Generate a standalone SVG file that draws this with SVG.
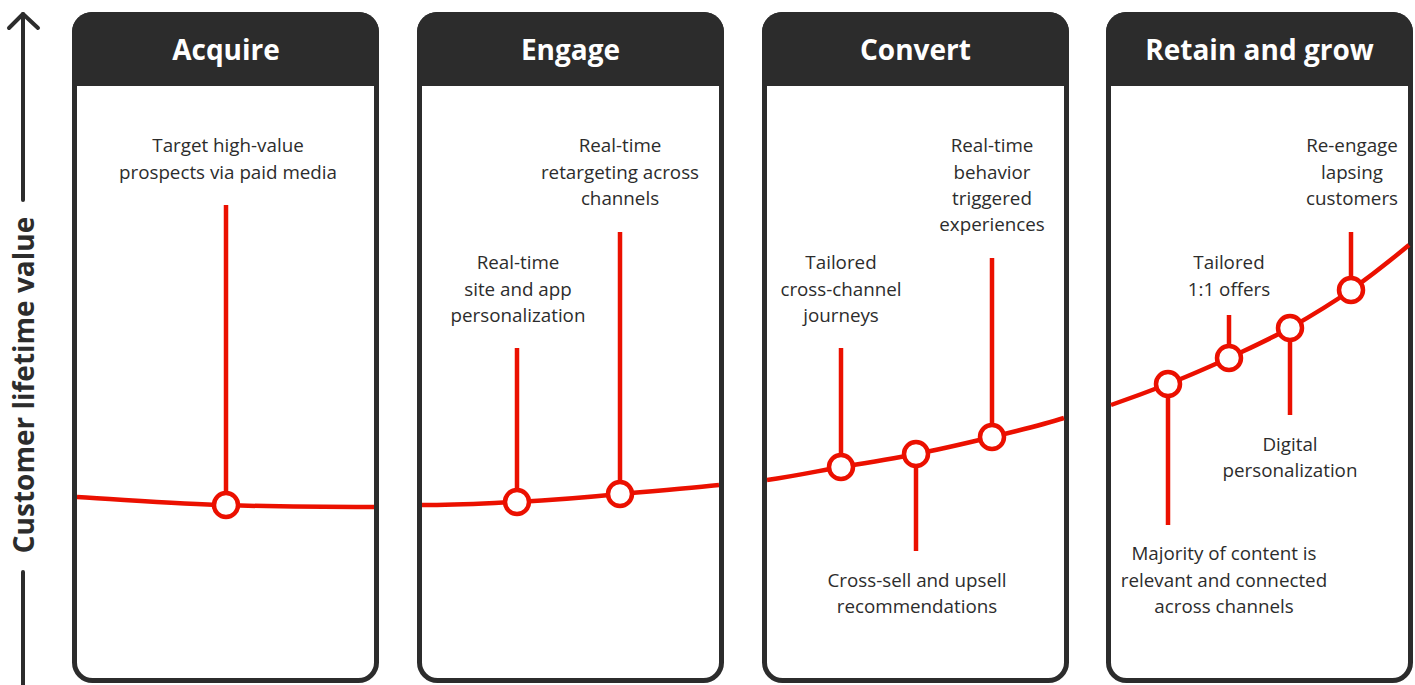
<svg xmlns="http://www.w3.org/2000/svg" width="1415" height="685" viewBox="0 0 1415 685">
  <style>
    .panel { fill: #ffffff; stroke: #2c2c2c; stroke-width: 5; }
    .head { fill: #2c2c2c; }
    .title { font-family: "Open Sans", "Noto Sans", sans-serif; font-weight: 700; font-size: 28px; fill: #ffffff; text-anchor: middle; }
    .label { font-family: "Open Sans", "Noto Sans", sans-serif; font-size: 18.8px; fill: #2c2c2c; text-anchor: middle; }
    .axis { stroke: #2c2c2c; stroke-width: 4; fill: none; stroke-linecap: round; stroke-linejoin: round; }
    .axis-label { font-family: "Open Sans", "Noto Sans", sans-serif; font-weight: 700; font-size: 28px; fill: #2c2c2c; text-anchor: middle; }
    .curve { stroke: #eb1000; stroke-width: 4.5; fill: none; }
    .stem { stroke: #eb1000; stroke-width: 4.5; fill: none; }
    .dot { fill: #ffffff; stroke: #eb1000; stroke-width: 4.5; }
  </style>

  <!-- vertical value axis -->
  <g id="axis">
    <path class="axis" d="M23 14 V200 M23 572 V685"/>
    <path class="axis" d="M9 28 L23 14 L38 28"/>
    <text class="axis-label" transform="translate(34 385) rotate(-90)">Customer lifetime value</text>
  </g>

  <!-- stage panels -->
  <g id="stage-acquire">
    <rect class="panel" x="74.5" y="14.5" width="302" height="666" rx="18"/>
    <path class="head" d="M72 86 V32 A20 20 0 0 1 92 12 H359 A20 20 0 0 1 379 32 V86 Z"/>
    <text class="title" x="226" y="60">Acquire</text>
  </g>
  <g id="stage-engage">
    <rect class="panel" x="419.5" y="14.5" width="302" height="666" rx="18"/>
    <path class="head" d="M417 86 V32 A20 20 0 0 1 437 12 H704 A20 20 0 0 1 724 32 V86 Z"/>
    <text class="title" x="570.5" y="60">Engage</text>
  </g>
  <g id="stage-convert">
    <rect class="panel" x="764.5" y="14.5" width="302" height="666" rx="18"/>
    <path class="head" d="M762 86 V32 A20 20 0 0 1 782 12 H1049 A20 20 0 0 1 1069 32 V86 Z"/>
    <text class="title" x="915.5" y="60">Convert</text>
  </g>
  <g id="stage-retain">
    <rect class="panel" x="1108.5" y="14.5" width="302" height="666" rx="18"/>
    <path class="head" d="M1106 86 V32 A20 20 0 0 1 1126 12 H1393 A20 20 0 0 1 1413 32 V86 Z"/>
    <text class="title" x="1259.5" y="60">Retain and grow</text>
  </g>

  <!-- value curve and touchpoint stems -->
  <g id="connectors">
    <path class="curve" d="M77 497 C130 500 180 504 226 505 C280 507 330 507 374 507"/>
    <path class="curve" d="M422 505 C460 505 490 503 517 502 C555 500 590 497 620 494 C655 491 690 488 719 485"/>
    <path class="curve" d="M767 480 C795 476 818 471 841 467 C866 463 891 459 916 454 C942 449 967 443 992 437 C1017 431 1042 425 1064 418"/>
    <path class="curve" d="M1111 405 C1131 398 1150 391 1168 384 C1189 376 1209 367 1229 358 C1250 348 1270 339 1290 328 C1311 316 1331 304 1351 290 C1372 275 1391 260 1409 245"/>

    <path class="stem" d="M226 205 V505"/>
    <path class="stem" d="M517 348 V502"/>
    <path class="stem" d="M620 232 V494"/>
    <path class="stem" d="M841 348 V467"/>
    <path class="stem" d="M916 454 V551"/>
    <path class="stem" d="M992 258 V437"/>
    <path class="stem" d="M1168 384 V525"/>
    <path class="stem" d="M1229 315 V358"/>
    <path class="stem" d="M1290 328 V415"/>
    <path class="stem" d="M1351 232 V290"/>
  </g>

  <!-- touchpoints -->
  <g id="tp-paid-media">
    <circle class="dot" cx="226" cy="505" r="12"/>
    <text class="label"><tspan x="228" y="152">Target high-value</tspan><tspan x="228" y="179">prospects via paid media</tspan></text>
  </g>
  <g id="tp-site-app">
    <circle class="dot" cx="517" cy="502" r="12"/>
    <text class="label"><tspan x="518" y="269">Real-time</tspan><tspan x="518" y="296">site and app</tspan><tspan x="518" y="322">personalization</tspan></text>
  </g>
  <g id="tp-retargeting">
    <circle class="dot" cx="620" cy="494" r="12"/>
    <text class="label"><tspan x="620" y="152">Real-time</tspan><tspan x="620" y="179">retargeting across</tspan><tspan x="620" y="205">channels</tspan></text>
  </g>
  <g id="tp-journeys">
    <circle class="dot" cx="841" cy="467" r="12"/>
    <text class="label"><tspan x="841" y="269">Tailored</tspan><tspan x="841" y="296">cross-channel</tspan><tspan x="841" y="322">journeys</tspan></text>
  </g>
  <g id="tp-cross-sell">
    <circle class="dot" cx="916" cy="454" r="12"/>
    <text class="label"><tspan x="917" y="587">Cross-sell and upsell</tspan><tspan x="917" y="613">recommendations</tspan></text>
  </g>
  <g id="tp-behavior">
    <circle class="dot" cx="992" cy="437" r="12"/>
    <text class="label"><tspan x="992" y="152">Real-time</tspan><tspan x="992" y="179">behavior</tspan><tspan x="992" y="205">triggered</tspan><tspan x="992" y="231">experiences</tspan></text>
  </g>
  <g id="tp-content">
    <circle class="dot" cx="1168" cy="384" r="12"/>
    <text class="label"><tspan x="1224" y="560">Majority of content is</tspan><tspan x="1224" y="587">relevant and connected</tspan><tspan x="1224" y="613">across channels</tspan></text>
  </g>
  <g id="tp-offers">
    <circle class="dot" cx="1229" cy="358" r="12"/>
    <text class="label"><tspan x="1229" y="269">Tailored</tspan><tspan x="1229" y="296">1:1 offers</tspan></text>
  </g>
  <g id="tp-digital">
    <circle class="dot" cx="1290" cy="328" r="12"/>
    <text class="label"><tspan x="1290" y="451">Digital</tspan><tspan x="1290" y="477">personalization</tspan></text>
  </g>
  <g id="tp-re-engage">
    <circle class="dot" cx="1351" cy="290" r="12"/>
    <text class="label"><tspan x="1352" y="152">Re-engage</tspan><tspan x="1352" y="179">lapsing</tspan><tspan x="1352" y="205">customers</tspan></text>
  </g>
</svg>
